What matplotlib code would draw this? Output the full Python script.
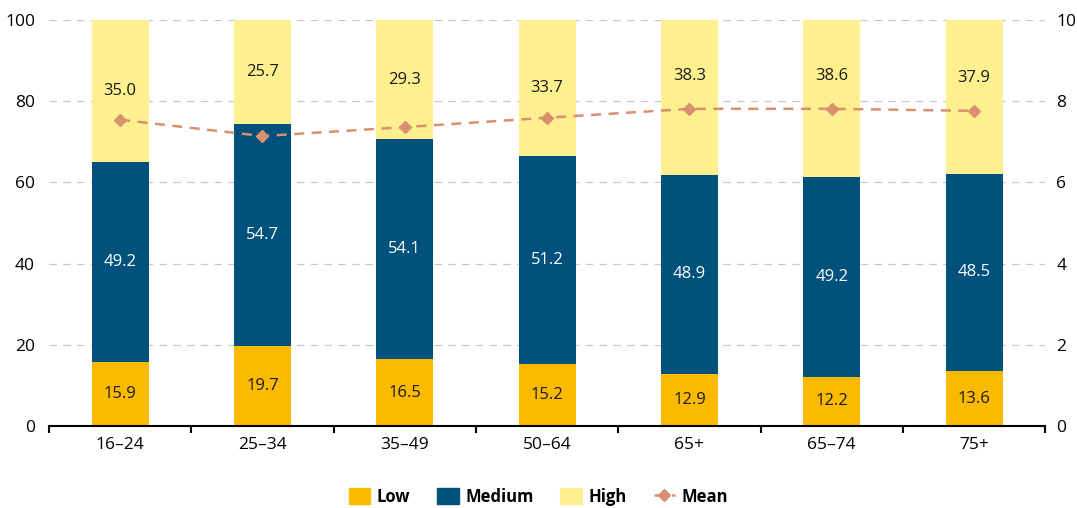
import matplotlib
matplotlib.use("Agg")
import matplotlib.pyplot as plt
import numpy as np
from matplotlib.lines import Line2D
from matplotlib.patches import Patch

plt.rcParams['font.family'] = ['Open Sans', 'DejaVu Sans']

categories = ['16–24', '25–34', '35–49', '50–64', '65+', '65–74', '75+']
low = [15.9, 19.7, 16.5, 15.2, 12.9, 12.2, 13.6]
medium = [49.2, 54.7, 54.1, 51.2, 48.9, 49.2, 48.5]
high = [35.0, 25.7, 29.3, 33.7, 38.3, 38.6, 37.9]
mean = [7.54, 7.14, 7.36, 7.59, 7.81, 7.81, 7.76]

c_low = '#FBB900'
c_med = '#00527C'
c_high = '#FFF08F'
c_mean = '#D9906E'

fig = plt.figure(figsize=(10.77, 5.08), dpi=100)
ax = fig.add_axes([0.0455, 0.161, 0.925, 0.8])
x = np.arange(len(categories))
w = 0.4

ax.bar(x, low, w, color=c_low, zorder=2)
ax.bar(x, medium, w, bottom=low, color=c_med, zorder=2)
bot2 = np.array(low) + np.array(medium)
ax.bar(x, high, w, bottom=bot2, color=c_high, zorder=2)

for i in range(len(x)):
    ax.text(x[i], low[i] / 2, f'{low[i]:.1f}', ha='center', va='center', fontsize=12, color='#1a1a1a', zorder=4)
    ax.text(x[i], low[i] + medium[i] / 2, f'{medium[i]:.1f}', ha='center', va='center', fontsize=12, color='white', zorder=4)
    yh = bot2[i] + high[i] / 2
    # keep the label clear of the mean marker
    if abs(yh - mean[i] * 10) < 6:
        yh = mean[i] * 10 + 8
    ax.text(x[i], yh, f'{high[i]:.1f}', ha='center', va='center', fontsize=12, color='#1a1a1a', zorder=4)

ax.set_xlim(-0.5, len(x) - 0.5)
ax.set_ylim(0, 100)
ax.set_yticks([0, 20, 40, 60, 80, 100])
ax.yaxis.grid(True, linestyle=(0, (6, 5)), color='#c8c8c8', linewidth=0.9, zorder=0)
ax.set_axisbelow(True)
for s in ['left', 'right', 'top']:
    ax.spines[s].set_visible(False)
ax.spines['bottom'].set_linewidth(1.5)
ax.spines['bottom'].set_color('black')
ax.tick_params(axis='y', length=0, labelsize=12.5, pad=10)
ax.set_xticks(x)
ax.set_xticklabels(categories, fontsize=12.5)
ax.tick_params(axis='x', length=0, pad=8)
ax.set_xticks(np.arange(-0.5, len(x), 1), minor=True)
ax.tick_params(axis='x', which='minor', length=5, width=1.5, direction='out')

ax2 = ax.twinx()
ax2.plot(x, mean, color=c_mean, linestyle=(0, (4, 3)), linewidth=1.8,
         marker='D', markersize=6, zorder=5)
ax2.set_ylim(0, 10)
ax2.set_yticks([0, 2, 4, 6, 8, 10])
for s in ['left', 'right', 'top', 'bottom']:
    ax2.spines[s].set_visible(False)
ax2.tick_params(axis='y', length=0, labelsize=12.5, pad=8)

handles = [Patch(color=c_low, label='Low'), Patch(color=c_med, label='Medium'),
           Patch(color=c_high, label='High'),
           Line2D([0], [0], color=c_mean, linestyle=(0, (4, 3)), linewidth=1.8,
                  marker='D', markersize=6, label='Mean')]
fig.legend(handles=handles, loc='center', bbox_to_anchor=(0.5, 0.022), ncol=4,
           frameon=False, prop={'weight': 'bold', 'size': 12}, handlelength=1.3,
           handleheight=1.1, columnspacing=1.6, handletextpad=0.4)

fig.savefig('out.png', dpi=100)
